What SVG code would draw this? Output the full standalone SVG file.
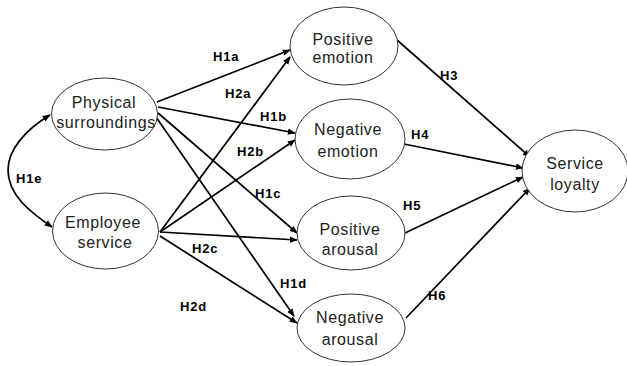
<svg xmlns="http://www.w3.org/2000/svg" width="627" height="366" viewBox="0 0 627 366">
<defs>
<marker id="ah" viewBox="0 0 10 10" refX="9" refY="5" markerWidth="8" markerHeight="8" markerUnits="userSpaceOnUse" orient="auto-start-reverse">
<path d="M0,1 L10,5 L0,9 z" fill="#000"/>
</marker>
<style>
.node ellipse{fill:#fff;stroke:#333;stroke-width:1}
.node text{font-family:"Liberation Sans",Arial,sans-serif;font-size:16px;letter-spacing:0.6px;fill:#222;text-anchor:middle}
.edges path,.edges line{stroke:#000;stroke-width:1.7;fill:none;marker-end:url(#ah)}
.lbl{font-family:"Liberation Sans",Arial,sans-serif;font-size:13px;font-weight:bold;letter-spacing:0.8px;fill:#000}
</style>
</defs>
<rect width="627" height="366" fill="#fff"/>
<g class="edges">
<path d="M50,115 C25,130 8,150 8,170 C8,195 30,212 52,227" style="marker-start:url(#ah)"/>
<line x1="157" y1="102" x2="290" y2="50"/>
<line x1="160" y1="232" x2="290" y2="57"/>
<line x1="158" y1="107" x2="295" y2="133"/>
<line x1="160" y1="232" x2="295" y2="140"/>
<line x1="158" y1="113" x2="297" y2="233"/>
<line x1="160" y1="232" x2="297" y2="240"/>
<line x1="156" y1="117" x2="294" y2="316"/>
<line x1="160" y1="236" x2="297" y2="323"/>
<line x1="397" y1="40" x2="530" y2="157"/>
<line x1="404" y1="144" x2="523" y2="168"/>
<line x1="405" y1="233" x2="523" y2="177"/>
<line x1="406" y1="318" x2="530" y2="188"/>
</g>
<g id="physical" class="node">
<ellipse cx="104.5" cy="114" rx="53" ry="36"/>
<text x="104" y="108">Physical</text>
<text x="106" y="128">surroundings</text>
</g>
<g id="employee" class="node">
<ellipse cx="105.5" cy="231" rx="53" ry="38"/>
<text x="103" y="228">Employee</text>
<text x="105" y="248">service</text>
</g>
<g id="posemotion" class="node">
<ellipse cx="344" cy="46" rx="54" ry="39"/>
<text x="343" y="45">Positive</text>
<text x="343" y="63">emotion</text>
</g>
<g id="negemotion" class="node">
<ellipse cx="350" cy="139" rx="55" ry="40"/>
<text x="348" y="135">Negative</text>
<text x="348" y="157">emotion</text>
</g>
<g id="posarousal" class="node">
<ellipse cx="351" cy="233" rx="54" ry="37"/>
<text x="350" y="235">Positive</text>
<text x="350" y="255">arousal</text>
</g>
<g id="negarousal" class="node">
<ellipse cx="351" cy="328" rx="54" ry="34"/>
<text x="350" y="323">Negative</text>
<text x="350" y="345">arousal</text>
</g>
<g id="loyalty" class="node">
<ellipse cx="575" cy="171" rx="53" ry="41"/>
<text x="575" y="169">Service</text>
<text x="575" y="190">loyalty</text>
</g>
<g id="labels">
<text class="lbl" x="213" y="61">H1a</text>
<text class="lbl" x="225" y="98">H2a</text>
<text class="lbl" x="260" y="121">H1b</text>
<text class="lbl" x="237" y="156">H2b</text>
<text class="lbl" x="16" y="183">H1e</text>
<text class="lbl" x="255" y="198">H1c</text>
<text class="lbl" x="192" y="253">H2c</text>
<text class="lbl" x="280" y="288">H1d</text>
<text class="lbl" x="180" y="311">H2d</text>
<text class="lbl" x="440" y="80">H3</text>
<text class="lbl" x="411" y="139">H4</text>
<text class="lbl" x="403" y="210">H5</text>
<text class="lbl" x="428" y="300">H6</text>
</g>
</svg>
